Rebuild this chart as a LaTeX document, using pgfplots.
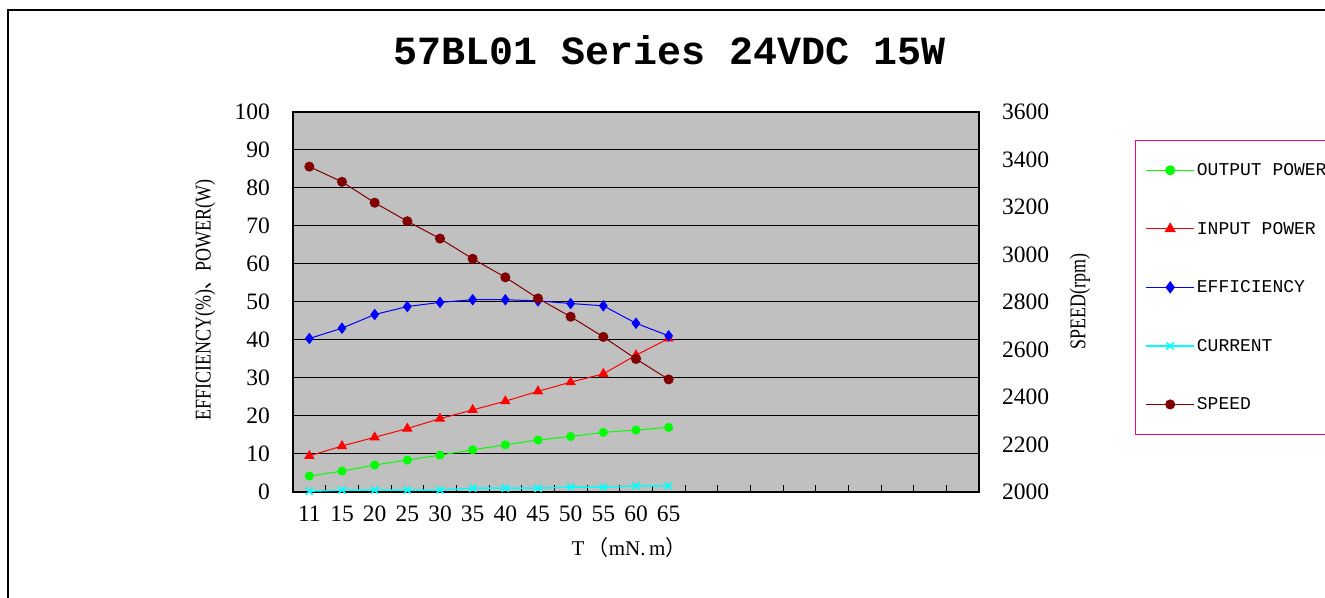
\documentclass[border=0pt]{standalone}
\usepackage{fontspec}
\setmainfont{Liberation Serif}
\newfontfamily\monof{Liberation Mono}
\newfontfamily\cjk{Noto Sans CJK SC}
\usepackage{graphicx}
\usepackage{pgfplots}
\pgfplotsset{compat=1.18}
\definecolor{plotgray}{HTML}{C0C0C0}
\definecolor{spdred}{HTML}{800000}
\definecolor{cur}{HTML}{00FFFF}
\begin{document}
\begin{tikzpicture}
\useasboundingbox (0pt,0pt) rectangle (1325pt,597pt);
\draw[line width=1.6pt] (8pt,-10pt) -- (8pt,587pt) -- (1340pt,587pt);
\node[font=\monof\bfseries\fontsize{40}{44}\selectfont] at (670pt,547pt) {57BL01 Series 24VDC 15W};
\pgfplotsset{
  common/.style={
    scale only axis, width=686pt, height=380pt,
    at={(293pt,105pt)}, anchor=south west,
    xmin=-0.5, xmax=20.5,
    /pgf/number format/assume math mode=true,
    /pgf/number format/1000 sep={},
    scaled y ticks=false,
    tick label style={font=\fontsize{23.5}{27}\selectfont},
    major tick length=0pt,
  },
  legend image code/.code={\draw[mark repeat=2,mark phase=2,#1] plot coordinates {(0pt,0pt) (24pt,0pt) (48pt,0pt)};},
}
\begin{axis}[common,
  axis background/.style={fill=plotgray},
  axis line style={black, line width=1.5pt},
  ymin=0, ymax=100, ytick={0,10,...,100},
  ymajorgrids, grid style={black, line width=1pt},
  xtick={0,...,11}, xticklabels={11,15,20,25,30,35,40,45,50,55,60,65},
  minor xtick={-0.5,0.5,...,20.5}, minor tick length=7pt,
  minor tick style={black, line width=1pt},
  xtick pos=bottom, ytick pos=left,
  yticklabel style={anchor=east, inner sep=0pt, xshift=-23pt},
  xticklabel style={anchor=north, inner sep=0pt, yshift=-14pt},
  xlabel={T\,{\cjk （}mN.\,m{\cjk ）}},
  xlabel style={at={(axis description cs:0.4898,-0.147)}, anchor=center, font=\fontsize{21}{24}\selectfont},
  ylabel={\scalebox{0.8}[1]{EFFICIENCY(\%){\cjk 、}POWER(W)}},
  ylabel style={at={(axis description cs:-0.128,0.505)}, anchor=center, font=\fontsize{22.5}{26}\selectfont},
  clip=false,
]
\addplot[color=green, line width=1pt, mark=*, mark size=4pt] coordinates {
(0,4.2) (1,5.5) (2,7.1) (3,8.4) (4,9.7) (5,11.1) (6,12.4) (7,13.7) (8,14.6) (9,15.7) (10,16.3) (11,17.0)};
\addplot[color=red, line width=1pt, mark=triangle*, mark size=5pt] coordinates {
(0,9.5) (1,12.1) (2,14.4) (3,16.7) (4,19.3) (5,21.6) (6,23.9) (7,26.5) (8,28.9) (9,31.1) (10,36.0) (11,40.4)};
\addplot[color=blue, line width=1pt, mark=diamond*, mark size=5pt] coordinates {
(0,40.4) (1,43.1) (2,46.7) (3,48.8) (4,49.9) (5,50.6) (6,50.6) (7,50.3) (8,49.6) (9,49.0) (10,44.4) (11,41.1)};
\addplot[color=cur, line width=1.4pt, mark=x, mark size=5pt, mark options={line width=1.6pt}] coordinates {
(0,0.2) (1,0.5) (2,0.5) (3,0.5) (4,0.5) (5,1.0) (6,1.0) (7,1.0) (8,1.3) (9,1.3) (10,1.6) (11,1.6)};
\end{axis}
\begin{axis}[common,
  axis x line=none, axis y line*=right,
  axis line style={black, line width=1.5pt},
  ymin=2000, ymax=3600, ytick={2000,2200,...,3600},
  yticklabel style={anchor=west, inner sep=0pt, xshift=23pt},
  ylabel={\scalebox{0.8}[1]{SPEED(rpm)}},
  ylabel style={at={(axis description cs:1.147,0.5)}, anchor=center, font=\fontsize{22.5}{26}\selectfont},
  legend style={at={(axis description cs:1.2274,0.9263)}, anchor=north west,
    draw=magenta, line width=1pt, fill=white,
    font=\monof\fontsize{18}{21}\selectfont,
    row sep=41pt, inner xsep=10pt, inner ysep=21pt,
    nodes={inner sep=2pt}},
  legend cell align=left,
  clip=false,
]
\addlegendimage{color=green, line width=1pt, mark=*, mark size=4.5pt}
\addlegendentry{OUTPUT POWER}
\addlegendimage{color=red, line width=1pt, mark=triangle*, mark size=5.5pt}
\addlegendentry{INPUT POWER}
\addlegendimage{color=blue, line width=1pt, mark=diamond*, mark size=5.5pt}
\addlegendentry{EFFICIENCY}
\addlegendimage{color=cur, line width=1.4pt, mark=x, mark size=5pt, mark options={line width=1.6pt}}
\addlegendentry{CURRENT}
\addplot[color=spdred, line width=1pt, mark=*, mark size=4.5pt] coordinates {
(0,3370) (1,3306) (2,3218) (3,3140) (4,3067) (5,2982) (6,2904) (7,2815) (8,2738) (9,2653) (10,2560) (11,2474)};
\addlegendentry{SPEED}
\end{axis}
\end{tikzpicture}
\end{document}
